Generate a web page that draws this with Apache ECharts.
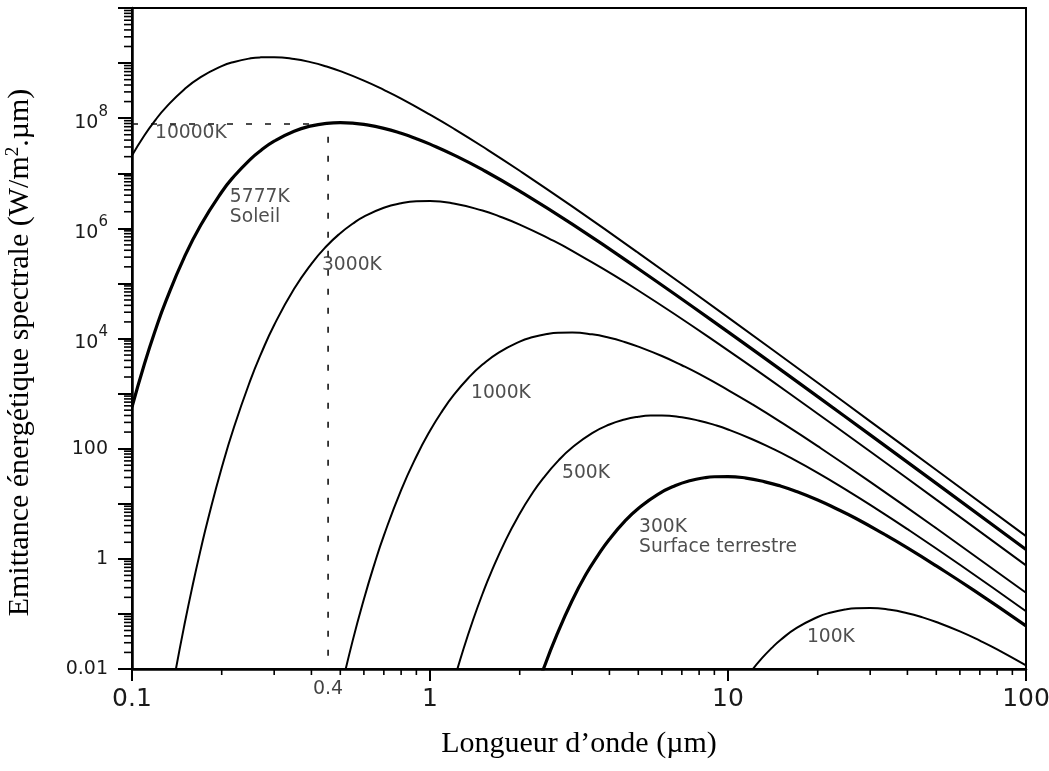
<!DOCTYPE html>
<html>
<head>
<meta charset="utf-8">
<script src="https://cdn.jsdelivr.net/npm/echarts@6/dist/echarts.min.js"></script>
<style>
html,body{margin:0;padding:0;background:#fff;}
#chart{width:1049px;height:771px;}
</style>
</head>
<body>
<div id="chart"></div>
<script>
// ---- Data (wavelength µm, exitance W/m².µm) ----
const curve10000K = [[0.1,2.11e7],[0.11,4.85e7],[0.12,9.34e7],[0.13,1.57e8],[0.15,3.36e8],[0.17,5.56e8],[0.2,8.79e8],[0.22,1.05e9],[0.25,1.22e9],[0.27,1.27e9],[0.3,1.28e9],[0.35,1.19e9],[0.4,1.03e9],[0.45,8.64e8],[0.5,7.13e8],[0.6,4.81e8],[0.7,3.27e8],[0.8,2.27e8],[1,1.16e8],[1.2,6.49e7],[1.5,3.06e7],[2,1.11e7],[3,2.50e6],[5,3.59e5],[10,2.42e4],[20,1570],[30,313],[50,41.0],[100,2.58]];
const curve5777K = [[0.1,571],[0.11,3410],[0.12,1.46e4],[0.13,4.82e4],[0.15,3.03e5],[0.17,1.14e6],[0.2,4.57e6],[0.22,8.80e6],[0.25,1.81e7],[0.27,2.57e7],[0.3,3.82e7],[0.35,5.79e7],[0.4,7.24e7],[0.45,8.04e7],[0.5,8.28e7],[0.55,8.12e7],[0.6,7.70e7],[0.7,6.53e7],[0.8,5.31e7],[0.9,4.25e7],[1,3.38e7],[1.2,2.16e7],[1.5,1.16e7],[2,4.73e6],[3,1.19e6],[5,1.85e5],[10,1.32e4],[20,881],[30,178],[50,23.4],[100,1.48]];
const curve3000K = [[0.13,9.6e-4],[0.14,0.0092],[0.15,0.0641],[0.16,0.342],[0.17,1.47],[0.18,5.31],[0.2,45.0],[0.22,247],[0.25,1790],[0.27,5030],[0.3,1.76e4],[0.35,7.97e4],[0.4,2.27e5],[0.45,4.77e5],[0.5,8.17e5],[0.55,1.21e6],[0.6,1.63e6],[0.7,2.36e6],[0.8,2.85e6],[0.9,3.09e6],[1,3.12e6],[1.2,2.82e6],[1.5,2.10e6],[1.7,1.67e6],[2,1.17e6],[2.5,6.59e5],[3,3.90e5],[5,7.44e4],[10,6080],[20,431],[30,88.8],[50,11.9],[100,0.762]];
const curve1000K = [[0.5,0.00381],[0.55,0.0324],[0.6,0.185],[0.65,0.786],[0.7,2.64],[0.8,17.7],[0.9,72.2],[1,211],[1.1,485],[1.2,934],[1.35,1960],[1.5,3360],[1.7,5560],[2,8790],[2.2,1.05e4],[2.5,1.22e4],[2.7,1.27e4],[3,1.28e4],[3.5,1.19e4],[4,1.03e4],[4.5,8640],[5,7130],[6,4810],[7,3270],[8,2270],[10,1160],[12,649],[15,306],[20,111],[30,25.0],[50,3.59],[100,0.242]];
const curve500K = [[1.1,0.00101],[1.2,0.00579],[1.3,0.0246],[1.4,0.0824],[1.5,0.230],[1.6,0.552],[1.8,2.26],[2,6.59],[2.2,15.2],[2.4,29.2],[2.7,61.3],[3,105],[3.5,192],[4,275],[4.5,339],[5,380],[5.5,399],[6,401],[7,371],[8,322],[9,270],[10,223],[12,150],[14,102],[16,70.8],[20,36.4],[25,17.7],[30,9.56],[40,3.47],[60,0.781],[100,0.112]];
const curve300K = [[2.2,0.00247],[2.4,0.00985],[2.67,0.0429],[3,0.175],[3.33,0.513],[3.67,1.18],[4,2.27],[4.5,4.77],[5,8.17],[5.8,14.7],[6.67,21.4],[7.5,26.4],[8.33,29.6],[9,30.9],[10,31.2],[11.5,29.2],[13.3,25.0],[15,21.0],[16.7,17.3],[20,11.7],[23.3,7.94],[26.7,5.51],[33.3,2.83],[40,1.58],[50,0.744],[66.7,0.270],[100,0.0608]];
const curve100K = [[10,0.00211],[11,0.00485],[12,0.00934],[13,0.0157],[14,0.0239],[15,0.0336],[17,0.0556],[20,0.0879],[22,0.105],[25,0.122],[27,0.127],[30,0.128],[35,0.119],[40,0.103],[45,0.0864],[50,0.0713],[60,0.0481],[70,0.0327],[80,0.0227],[100,0.0116]];

// dashed guide to the Sun's peak
const sunGuide = [[0.1,7.85e7],[0.455,7.85e7],[0.455,0.01]];
const sunGuideLabel = '0.4';

// curve annotations
const labelTexts = ['10000K','5777K\nSoleil','3000K','1000K','500K','300K\nSurface terrestre','100K'];
const labelX = [0.1195, 0.213, 0.434, 1.373, 2.773, 5.03, 18.4];
const labelY = [5.38e7, 2.44e6, 2.16e5, 1026, 36.2, 2.49, 0.0381];

// tick labels
const xTickExps = [-1, 0, 1, 2];
const xTickLabels = ['0.1', '1', '10', '100'];
const yTickExps = [-2, 0, 2, 4, 6, 8];
const yTickLabels = ['0.01', '1', '100', '{b|10}{s|4}', '{b|10}{s|6}', '{b|10}{s|8}'];
const minorMultipliers = [2,3,4,5,6,7,8,9];

// ---- build ----
const X_MIN = 0.1, X_MAX = 100, Y_MIN = 0.01, Y_MAX = 1e10;
const minorTicks = [];
for (let e = -1; e < 2; e++) minorMultipliers.forEach(m => minorTicks.push([m * Math.pow(10, e), Y_MIN, 0]));
for (let e = -2; e < 10; e++) minorMultipliers.forEach(m => minorTicks.push([X_MIN, m * Math.pow(10, e), 1]));

function expOf(v){ return Math.round(Math.log10(v)); }

const curves = [
  {name:'10000K', data:curve10000K, w:2},
  {name:'5777K', data:curve5777K, w:3.2},
  {name:'3000K', data:curve3000K, w:2},
  {name:'1000K', data:curve1000K, w:2},
  {name:'500K', data:curve500K, w:2},
  {name:'300K', data:curve300K, w:3.2},
  {name:'100K', data:curve100K, w:2}
];

const series = [];
series.push({
  type:'line', name:'guide', data:sunGuide, symbol:'none', silent:true, z:1,
  lineStyle:{color:'#111', width:1.6, type:[6,13]},
  clip:true
});
curves.forEach(c => series.push({
  type:'line', name:c.name, data:c.data, symbol:'none', smooth:0.5,
  silent:true, clip:true, z:3,
  lineStyle:{color:'#000', width:c.w}
}));
series.push({
  type:'scatter', name:'labels', symbolSize:0, silent:true, z:5,
  data: labelTexts.map((t,i) => ({value:[labelX[i], labelY[i]], name:t})),
  label:{show:true, position:'right', distance:0, formatter: p => p.name,
    fontFamily:'DejaVu Sans', fontSize:18.7, color:'#222', lineHeight:20, align:'left'}
});
series.push({
  type:'scatter', name:'guideLabel', symbolSize:0, silent:true, z:5, clip:false,
  data:[{value:[sunGuide[2][0], sunGuide[2][1]], name:sunGuideLabel}],
  label:{show:true, position:'bottom', distance:11, formatter: p => p.name,
    fontFamily:'DejaVu Sans', fontSize:19, color:'#111'}
});
series.push({
  type:'custom', name:'minorTicks', coordinateSystem:'cartesian2d', silent:true, clip:false, z:6,
  data: minorTicks,
  encode:{x:0, y:1},
  renderItem: function(params, api){
    const p = api.coord([api.value(0), api.value(1)]);
    const isY = api.value(2) === 1;
    const shape = isY ? {x1:p[0]-8, y1:p[1], x2:p[0], y2:p[1]} : {x1:p[0], y1:p[1], x2:p[0], y2:p[1]+6};
    return {type:'line', shape:shape, style:{stroke:'#000', lineWidth:1.6}};
  }
});

const chart = echarts.init(document.getElementById('chart'), null, {renderer:'canvas'});
chart.setOption({
  animation:false,
  backgroundColor:'#fff',
  grid:{left:132, right:23, top:8, bottom:102, containLabel:false, outerBoundsMode:'none',
    show:true, borderColor:'#000', borderWidth:2, backgroundColor:'transparent'},
  xAxis:{
    type:'log', logBase:10, min:X_MIN, max:X_MAX, interval:1,
    name:'Longueur d’onde (µm)', nameLocation:'middle', nameGap:60,
    nameTextStyle:{fontFamily:'Liberation Serif', fontSize:30, color:'#000'},
    axisLine:{show:true, lineStyle:{color:'#000', width:2.5}},
    axisTick:{show:true, inside:false, length:12, lineStyle:{color:'#000', width:2}},
    splitLine:{show:false}, minorTick:{show:false},
    axisLabel:{margin:18, fontFamily:'DejaVu Sans', fontSize:25, color:'#1a1a1a',
      formatter: v => { const i = xTickExps.indexOf(expOf(v)); return i >= 0 ? xTickLabels[i] : ''; }}
  },
  yAxis:{
    type:'log', logBase:10, min:Y_MIN, max:Y_MAX, interval:1,
    name:'Emittance énergétique spectrale (W/m{sup|2}.µm)', nameLocation:'middle', nameGap:95, nameRotate:90,
    nameTextStyle:{fontFamily:'Liberation Serif', fontSize:30, color:'#000', padding:[0,28,0,0],
      rich:{sup:{fontFamily:'Liberation Serif', fontSize:19, color:'#000', padding:[0,0,14,0]}}},
    axisLine:{show:true, lineStyle:{color:'#000', width:2.5}},
    axisTick:{show:true, inside:false, length:14, lineStyle:{color:'#000', width:2}},
    splitLine:{show:false}, minorTick:{show:false},
    axisLabel:{margin:24, fontFamily:'DejaVu Sans', fontSize:19, color:'#1a1a1a',
      formatter: v => { const i = yTickExps.indexOf(expOf(v)); return i >= 0 ? yTickLabels[i] : ''; },
      rich:{
        b:{fontFamily:'DejaVu Sans', fontSize:19, color:'#1a1a1a', padding:[10,0,0,0]},
        s:{fontFamily:'DejaVu Sans', fontSize:15, color:'#1a1a1a', padding:[0,0,12,0]}
      }}
  },
  series: series
});
</script>
</body>
</html>
